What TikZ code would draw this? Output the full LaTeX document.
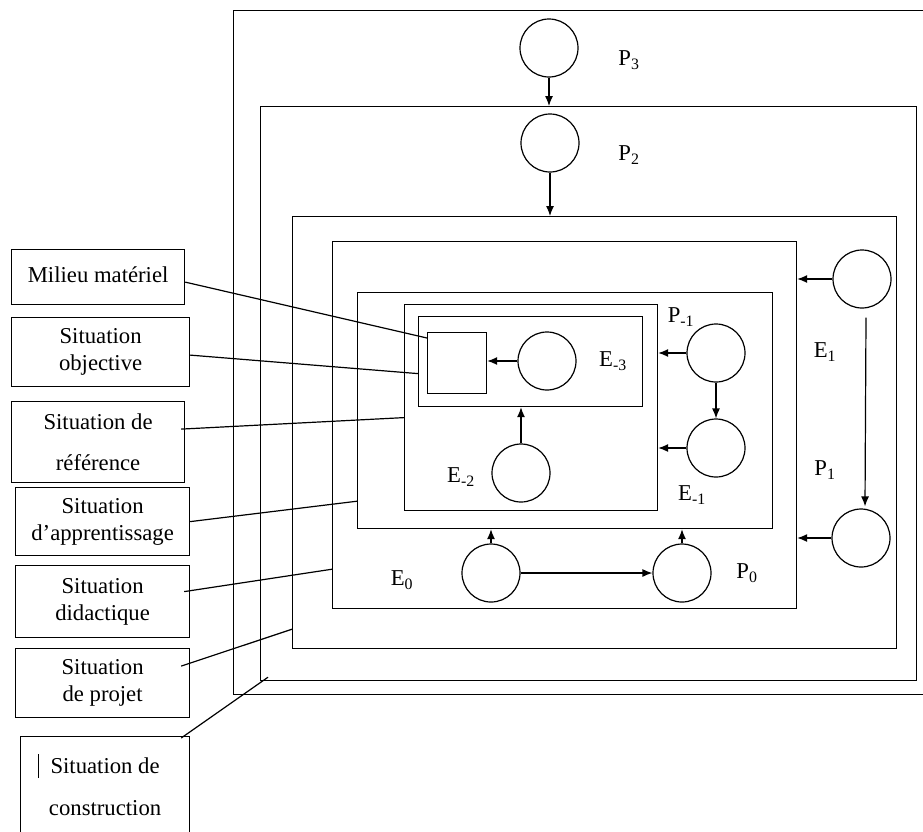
\documentclass[tikz,border=0pt]{standalone}
\usepackage{fontspec}
\setmainfont{Liberation Serif}
\usetikzlibrary{arrows.meta}

\begin{document}
\begin{tikzpicture}[x=1pt, y=-1pt, line width=1.2pt,
    every node/.style = {font=\fontsize{22.7}{27}\selectfont},
    frame/.style = {draw, anchor=north west, inner sep=0pt},
    ring/.style = {draw, circle, minimum size=58pt, inner sep=0pt},
    lbl/.style = {draw, anchor=north west, align=center, inner sep=0pt},
    arr/.style = {-{Latex[length=10pt,width=8pt]}}]
  \useasboundingbox (0,0) rectangle (923,831);

  % nested situations
  \node[frame, minimum width=700pt, minimum height=684pt] (boxA) at (233,10) {};
  \node[frame, minimum width=656pt, minimum height=574pt] (boxB) at (260,106) {};
  \node[frame, minimum width=604pt, minimum height=432pt] (boxC) at (292,216) {};
  \node[frame, minimum width=464pt, minimum height=367pt] (boxD) at (332,241) {};
  \node[frame, minimum width=415pt, minimum height=236pt] (boxE) at (357,292) {};
  \node[frame, minimum width=253pt, minimum height=206pt] (boxF) at (404,304) {};
  \node[frame, minimum width=224pt, minimum height=90pt] (boxG) at (418,316) {};
  \node[frame, minimum width=59pt, minimum height=61pt] (milieu) at (427,332) {};

  % actors
  \node[ring] (p3) at (549,48) {};
  \node[ring] (p2) at (550,143) {};
  \node[ring] (e1) at (862,279) {};
  \node[ring] (p1) at (861,538) {};
  \node[ring] (pm1) at (716,353) {};
  \node[ring] (em1) at (716,448) {};
  \node[ring] (em3) at (547,361) {};
  \node[ring] (em2) at (521,473) {};
  \node[ring] (e0) at (491,573) {};
  \node[ring] (p0) at (682,573) {};

  \node (tp3) at (629,60) {P\textsubscript{3}};
  \node (tp2) at (629,155) {P\textsubscript{2}};
  \node (te1) at (825,352) {E\textsubscript{1}};
  \node (tp1) at (825,470) {P\textsubscript{1}};
  \node (tpm1) at (681,317) {P\textsubscript{-1}};
  \node (tem1) at (692,495) {E\textsubscript{-1}};
  \node (tem3) at (613,361) {E\textsubscript{-3}};
  \node (tem2) at (461,477) {E\textsubscript{-2}};
  \node (te0) at (402,580) {E\textsubscript{0}};
  \node (tp0) at (747,573) {P\textsubscript{0}};

  \draw[arr] (p3.south) -- (p3.south |- boxB.north);
  \draw[arr] (p2.south) -- (p2.south |- boxC.north);
  \draw[arr] (e1.west) -- (boxD.east |- e1.west);
  \draw[arr] ([xshift=4pt,yshift=-9pt]e1.south) -- ([xshift=4pt,yshift=2pt]p1.north);
  \draw[arr] (p1.west) -- (boxD.east |- p1.west);
  \draw[arr] (pm1.west) -- (boxF.east |- pm1.west);
  \draw[arr] (pm1.south) -- (em1.north);
  \draw[arr] (em1.west) -- (boxF.east |- em1.west);
  \draw[arr] (em3.west) -- (milieu.east |- em3.west);
  \draw[arr] (em2.north) -- (em2.north |- boxG.south);
  \draw[arr] (e0.north) -- (e0.north |- boxE.south);
  \draw[arr] (e0.east) -- (p0.west);
  \draw[arr] (p0.north) -- (p0.north |- boxE.south);

  % legend boxes
  \node[lbl, minimum width=173pt, minimum height=55pt] (lmil) at (11,249) {\raisebox{5pt}{Milieu matériel}};
  \node[lbl, minimum width=178pt, minimum height=69pt] (lobj) at (11,317) {Situation\\objective};
  \node[lbl, minimum width=173pt, minimum height=81pt] (lref) at (11,401) {Situation de\\[14pt]référence};
  \node[lbl, minimum width=174pt, minimum height=68pt] (lapp) at (15,487) {Situation\\d’apprentissage};
  \node[lbl, minimum width=174pt, minimum height=72pt] (ldid) at (15,565) {Situation\\didactique};
  \node[lbl, minimum width=174pt, minimum height=69pt] (lpro) at (15,648) {Situation\\de projet};
  \node[lbl, minimum width=169pt, minimum height=96pt] (lcon) at (20,736)
    {\llap{\rule[-5pt]{1pt}{24pt}\hspace{12pt}}Situation de\\[15pt]construction};

  \draw ([yshift=-5pt]lmil.east) -- ([yshift=-6pt]milieu.north west);
  \draw ([yshift=-3pt]lobj.east) -- ([yshift=-12pt]boxG.west);
  \draw ([xshift=-4pt,yshift=13pt]lref.east) -- ([yshift=-10pt]boxF.west);
  \draw (lapp.east) -- ([yshift=28pt]boxE.south west);
  \draw ([xshift=-6pt,yshift=10pt]ldid.east) -- ([yshift=40pt]boxD.south west);
  \draw ([xshift=-9pt,yshift=17pt]lpro.east) -- ([yshift=20pt]boxC.south west);
  \draw ([xshift=-9pt,yshift=-2pt]lcon.north east) -- ([xshift=8pt,yshift=4pt]boxB.south west);
\end{tikzpicture}
\end{document}
